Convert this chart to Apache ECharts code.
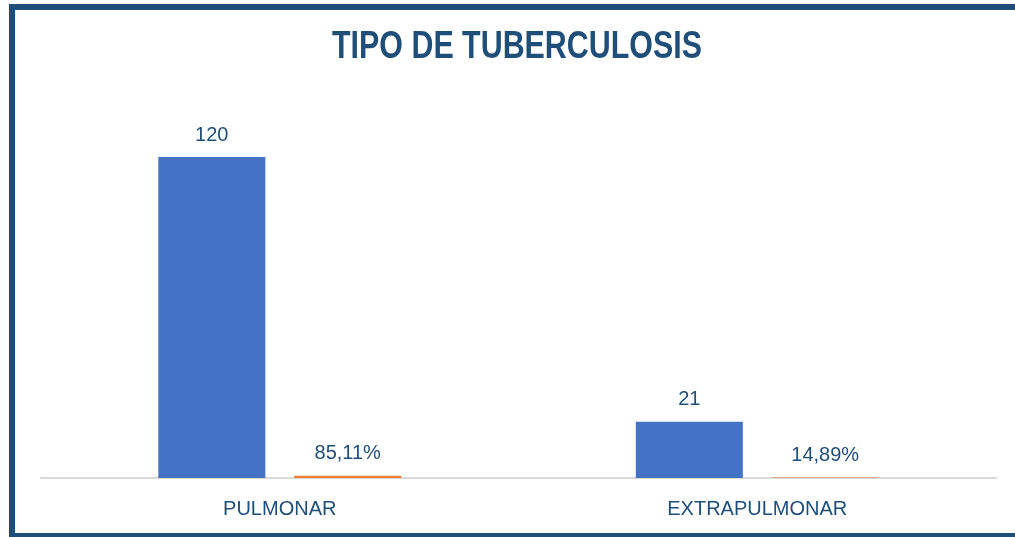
<!DOCTYPE html>
<html>
<head>
<meta charset="utf-8">
<script src="https://cdn.jsdelivr.net/npm/echarts@6/dist/echarts.min.js"></script>
<style>
html,body{margin:0;padding:0;background:#fff;overflow:hidden;}
#c{width:1015px;height:537px;}
</style>
</head>
<body>
<div id="c"></div>
<script>
var titleText = 'TIPO DE TUBERCULOSIS';
var categories = ['PULMONAR', 'EXTRAPULMONAR'];
var counts = [120, 21];
var percents = [0.8511, 0.1489];

var FONT = '"Liberation Sans", Arial, sans-serif';
var TXT = '#1F4E79';
var chart = echarts.init(document.getElementById('c'), null, {renderer: 'canvas'});
chart.setOption({
  animation: false,
  backgroundColor: '#ffffff',
  graphic: [{
    type: 'polyline',
    shape: {points: [[1200, 7], [12, 7], [12, 536], [1200, 536]]},
    style: {fill: 'none', stroke: '#1F4E79', lineWidth: 6},
    silent: true
  }, {
    type: 'text',
    x: 517,
    y: 48,
    scaleX: 0.8,
    silent: true,
    style: {
      text: titleText,
      x: 0, y: 0,
      textAlign: 'center',
      textVerticalAlign: 'middle',
      fontFamily: FONT,
      fontWeight: 'bold',
      fontSize: 38,
      fill: TXT
    }
  }],
  grid: {left: 41, right: 19, top: 103.5, bottom: 59},
  xAxis: {
    type: 'category',
    data: categories,
    axisLine: {lineStyle: {color: '#d9d9d9', width: 2}},
    axisTick: {show: false},
    axisLabel: {fontFamily: FONT, fontSize: 20, color: TXT, margin: 21}
  },
  yAxis: {
    type: 'value',
    min: 0,
    max: 140,
    show: false,
    splitLine: {show: false}
  },
  series: [{
    type: 'bar',
    data: counts,
    barWidth: 107,
    barGap: '27%',
    itemStyle: {color: '#4472C4'},
    label: {show: true, position: 'top', distance: 12, fontFamily: FONT, fontSize: 20, color: TXT}
  }, {
    type: 'bar',
    data: percents,
    barWidth: 107,
    itemStyle: {color: '#ED7D31'},
    label: {
      show: true, position: 'top', distance: 12, fontFamily: FONT, fontSize: 20, color: TXT,
      formatter: function (p) { return (p.value * 100).toFixed(2).replace('.', ',') + '%'; }
    }
  }]
});
</script>
</body>
</html>
